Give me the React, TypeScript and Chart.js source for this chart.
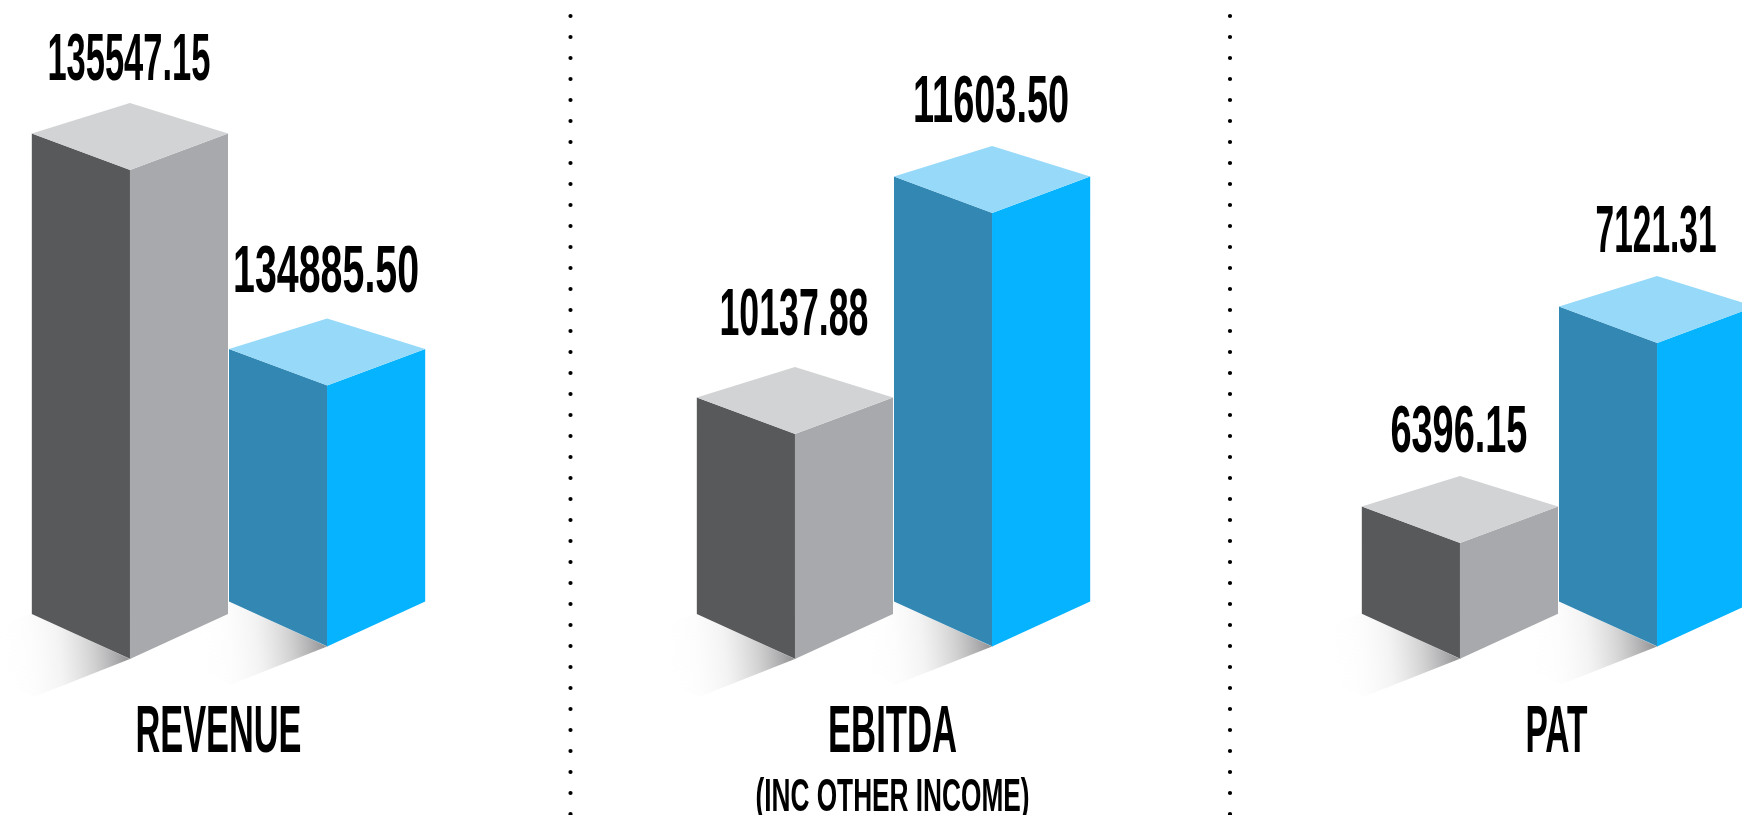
import React, { useEffect, useRef } from "react";
import { Chart, registerables } from "chart.js";

Chart.register(...registerables);

const categories = ["REVENUE", "EBITDA", "PAT"];
const subtitles = ["", "(INC OTHER INCOME)", ""];
const priorValues = [135547.15, 10137.88, 6396.15];
const currentValues = [134885.5, 11603.5, 7121.31];

// Each group has its own truncated value axis in the reference.
const axisIds = ["yRevenue", "yEbitda", "yPat"];
const axisMin = [133566.8, 7611.2, 5409.9];
const axisMax = [136069.1, 13016.1, 8365.0];
const priorBase = [134046, 8646, 5976];
const currentBase = [134084, 8729, 6021];

const PRIOR_FACES = { left: "#58595b", right: "#a7a9ac", top: "#d1d3d4" };
const CURRENT_FACES = { left: "#3287b3", right: "#05b3ff", top: "#96d9f9" };

const CANVAS_WIDTH = 1995;
const CANVAS_HEIGHT = 815;
const SHIFT = 104;
const DIVIDERS = [570.5, 1230];
const FONT_FAMILY = '"Liberation Sans", Arial, sans-serif';

const valueLabelWidths: Record<string, number> = {
  "135547.15": 163,
  "134885.50": 186,
  "10137.88": 149,
  "11603.50": 156,
  "6396.15": 137,
  "7121.31": 121,
};
const valueLabelRise: Record<string, number> = {
  "135547.15": 90,
  "134885.50": 93.5,
  "10137.88": 99.5,
  "11603.50": 91,
  "6396.15": 91,
  "7121.31": 91,
};
const categoryLabelWidths = [166, 129, 62];
const categoryLabelNudge = [-10, -1, -2];

function sparse(value: number, index: number) {
  return categories.map((_, i) => (i === index ? value : null));
}

const datasets: any[] = [];
categories.forEach((name, i) => {
  datasets.push({
    label: name + " prior",
    data: sparse(priorValues[i], i),
    yAxisID: axisIds[i],
    base: priorBase[i],
    backgroundColor: PRIOR_FACES.left,
    faces: PRIOR_FACES,
    skipNull: true,
    categoryPercentage: 0.593,
    barPercentage: 0.995,
  });
  datasets.push({
    label: name + " current",
    data: sparse(currentValues[i], i),
    yAxisID: axisIds[i],
    base: currentBase[i],
    backgroundColor: CURRENT_FACES.left,
    faces: CURRENT_FACES,
    skipNull: true,
    categoryPercentage: 0.593,
    barPercentage: 0.995,
  });
});

const yScales: any = {};
axisIds.forEach((id, i) => {
  yScales[id] = { display: false, min: axisMin[i], max: axisMax[i] };
});

function poly(ctx: CanvasRenderingContext2D, pts: number[][], fill: string | CanvasGradient) {
  ctx.beginPath();
  pts.forEach((p, i) => (i ? ctx.lineTo(p[0], p[1]) : ctx.moveTo(p[0], p[1])));
  ctx.closePath();
  ctx.fillStyle = fill;
  ctx.fill();
}

function liveBars(chart: any, meta: any) {
  const ds = chart.data.datasets[meta.index];
  return meta.data.filter((_: any, i: number) => ds.data[i] != null);
}

const isoPlugin = {
  id: "iso",
  beforeDatasetsDraw(chart: any) {
    const ctx = chart.ctx;
    chart.data.datasets.forEach((_: any, idx: number) => {
      const meta = chart.getDatasetMeta(idx);
      liveBars(chart, meta).forEach((bar: any) => {
        const mid = bar.x;
        const base = bar.base;
        const half = bar.width / 2;
        const g = ctx.createLinearGradient(mid - 4, base - 4, mid - 135, base + 10);
        g.addColorStop(0, "rgba(140,140,142,0.9)");
        g.addColorStop(0.25, "rgba(190,190,192,0.7)");
        g.addColorStop(0.5, "rgba(232,232,233,0.5)");
        g.addColorStop(0.72, "rgba(248,248,248,0.3)");
        g.addColorStop(1, "rgba(255,255,255,0)");
        poly(ctx, [
          [mid - half, base - 45],
          [mid, base],
          [mid - half + 2, base + 38],
          [mid - half - 60, base + 8],
          [mid - half - 60, base - 28],
        ], g);
      });
    });
  },
  beforeDatasetDraw(chart: any, args: any) {
    const ctx = chart.ctx;
    const faces = chart.data.datasets[args.index].faces;
    liveBars(chart, args.meta).forEach((bar: any) => {
      const { x, y, base } = bar;
      const half = bar.width / 2;
      const l = x - half;
      const r = x + half;
      poly(ctx, [[l, y - 36.5], [x + 0.5, y], [x + 0.5, base], [l, base - 45]], faces.left);
      poly(ctx, [[x, y], [r, y - 36.5], [r, base - 45], [x, base]], faces.right);
      poly(ctx, [[l, y - 36.5], [x, y - 67], [r, y - 36.5], [x, y]], faces.top);
    });
    return false;
  },
  afterDatasetsDraw(chart: any) {
    const ctx = chart.ctx;
    ctx.save();
    ctx.fillStyle = "#000";
    ctx.textAlign = "center";
    ctx.textBaseline = "alphabetic";

    // dotted dividers
    ctx.strokeStyle = "#000";
    ctx.lineWidth = 4.2;
    ctx.lineCap = "round";
    ctx.setLineDash([0, 21]);
    DIVIDERS.forEach((d) => {
      ctx.beginPath();
      ctx.moveTo(d + SHIFT, 16);
      ctx.lineTo(d + SHIFT, 815);
      ctx.stroke();
    });
    ctx.setLineDash([]);

    // value labels
    ctx.font = "bold 66px " + FONT_FAMILY;
    chart.data.datasets.forEach((ds: any, idx: number) => {
      const meta = chart.getDatasetMeta(idx);
      ds.data.forEach((v: number | null, i: number) => {
        if (v == null) return;
        const bar = meta.data[i];
        const text = v.toFixed(2);
        ctx.fillText(text, bar.x - 1, bar.y - valueLabelRise[text], valueLabelWidths[text]);
      });
    });

    // category labels
    const xs = chart.scales.x;
    categories.forEach((name, i) => {
      const cx = xs.getPixelForValue(i) + categoryLabelNudge[i];
      ctx.font = "bold 66px " + FONT_FAMILY;
      ctx.fillText(name, cx, 752, categoryLabelWidths[i]);
      if (subtitles[i]) {
        ctx.font = "bold 47px " + FONT_FAMILY;
        ctx.fillText(subtitles[i], cx, 811, 274);
      }
    });
    ctx.restore();
  },
};

export default function App() {
  const ref = useRef<HTMLCanvasElement | null>(null);
  useEffect(() => {
    document.body.style.margin = "0";
    document.body.style.background = "#fff";
    const chart = new Chart(ref.current as HTMLCanvasElement, {
      type: "bar",
      data: { labels: categories, datasets },
      options: {
        animation: false,
        responsive: false,
        devicePixelRatio: 1,
        layout: { padding: 0 },
        plugins: { legend: { display: false }, tooltip: { enabled: false } },
        scales: { x: { display: false }, ...yScales },
      },
      plugins: [isoPlugin],
    } as any);
    return () => chart.destroy();
  }, []);
  return (
    <div style={{ position: "fixed", left: 0, top: 0, width: 1742, height: 815, overflow: "hidden", background: "#fff" }}>
      <canvas
        ref={ref}
        width={CANVAS_WIDTH}
        height={CANVAS_HEIGHT}
        style={{ position: "absolute", left: -SHIFT, top: 0, width: CANVAS_WIDTH, height: CANVAS_HEIGHT }}
      />
    </div>
  );
}
